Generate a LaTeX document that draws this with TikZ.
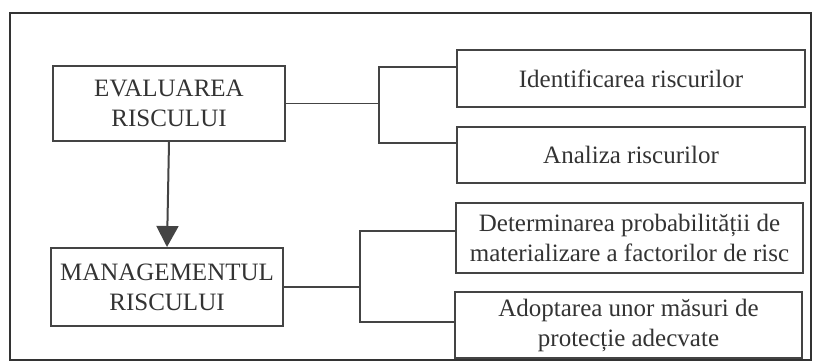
\documentclass[tikz,border=0pt]{standalone}
\usepackage{fontspec}
\setmainfont{Liberation Serif}
\usetikzlibrary{arrows.meta}
\definecolor{inkgrey}{HTML}{333333}
\definecolor{linegrey}{HTML}{444444}

\begin{document}
\begin{tikzpicture}[x=0.5pt, y=-0.5pt,
    box/.style={draw=linegrey, line width=1pt, inner sep=0pt, align=center,
        text=inkgrey, font=\fontsize{12.5}{15}\selectfont},
    link/.style={draw=linegrey, line width=0.9pt}]
    \useasboundingbox (0,0) rectangle (817,362);

    % frame
    \draw[draw=black!80, line width=1.1pt] (10,13) rectangle (811,360);

    % left column
    \node[box, minimum width=116pt, minimum height=37.5pt] (eval) at (169,103.5)
        {EVALUAREA\\RISCULUI};
    \node[box, minimum width=116pt, minimum height=39pt] (mgmt) at (167,287)
        {MANAGEMENTUL\\RISCULUI};

    % right column
    \node[box, minimum width=174pt, minimum height=28.5pt] (ident) at (631,78.5)
        {Identificarea riscurilor};
    \node[box, minimum width=174pt, minimum height=28pt] (anal) at (631,155)
        {Analiza riscurilor};
    \node[box, minimum width=173.5pt, minimum height=35pt] (determ) at (629.5,238)
        {Determinarea probabilității de\\materializare a factorilor de risc};
    \node[box, minimum width=173.5pt, minimum height=33pt] (adopt) at (628.5,325)
        {Adoptarea unor măsuri de\\protecție adecvate};

    % bracket points
    \coordinate (up1) at (379,67);
    \coordinate (up2) at (379,143);
    \coordinate (lo1) at (360,231);
    \coordinate (lo2) at (360,322);

    \draw[link] (eval.east) -- (eval.east -| up1);
    \draw[link] (ident.west |- up1) -- (up1) -- (up2) -- (anal.west |- up2);
    \draw[link] (mgmt.east) -- (mgmt.east -| lo1);
    \draw[link] (determ.west |- lo1) -- (lo1) -- (lo2) -- (adopt.west |- lo2);

    \draw[link, line width=1pt, -{Triangle[width=11pt, length=10.5pt]}]
        (eval.south) -- (mgmt.north);
\end{tikzpicture}
\end{document}
